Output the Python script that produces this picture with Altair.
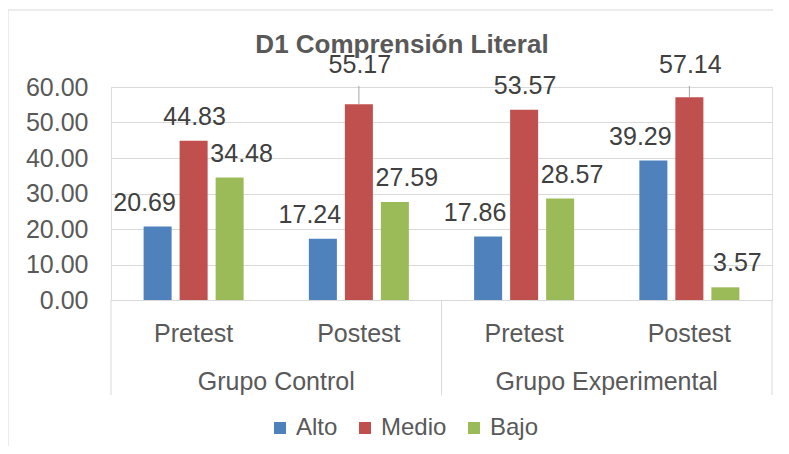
import altair as alt
import pandas as pd

# ---- data ----
grupos = ["Grupo Control", "Grupo Control", "Grupo Experimental", "Grupo Experimental"]
pruebas = ["Pretest", "Postest", "Pretest", "Postest"]
series = ["Alto", "Medio", "Bajo"]
alto = [20.69, 17.24, 17.86, 39.29]
medio = [44.83, 55.17, 53.57, 57.14]
bajo = [34.48, 27.59, 28.57, 3.57]
titulo = "D1 Comprensión Literal"
colores = ["#4F81BD", "#C0504D", "#9BBB59"]

claves = [g + "|" + p for g, p in zip(grupos, pruebas)]
rows = []
for s, vals in zip(series, [alto, medio, bajo]):
    for k, g, p, v in zip(claves, grupos, pruebas, vals):
        rows.append({"clave": k, "grupo": g, "prueba": p, "serie": s, "valor": v})
df = pd.DataFrame(rows)

# group spans along the category axis (band indices derived from the lists)
grp_rows = []
for g in dict.fromkeys(grupos):
    idx = [i for i, gg in enumerate(grupos) if gg == g]
    grp_rows.append({"grupo": g, "ini": idx[0], "fin": idx[-1] + 1,
                     "centro": (idx[0] + idx[-1] + 1) / 2})
gdf = pd.DataFrame(grp_rows)
sep_df = pd.DataFrame({"pos": sorted(set(gdf["ini"]).union(gdf["fin"]))})

FONT = "Liberation Sans"
GRAY = "#595959"
LINE = "#d9d9d9"

x_axis = alt.Axis(labelExpr="split(datum.value, '|')[1]", labelAngle=0,
                  ticks=False, domainColor=LINE, labelFontSize=25,
                  labelColor=GRAY, labelPadding=21, labelFont=FONT,
                  grid=False, labelAlign="center", labelFlush=False,
                  labelOverlap=False)
x_enc = alt.X("clave:N", sort=claves, title=None,
              scale=alt.Scale(paddingInner=0, paddingOuter=0), axis=x_axis)
xo_enc = alt.XOffset("serie:N", sort=series,
                     scale=alt.Scale(paddingInner=0.222, paddingOuter=0.906))
y_scale = alt.Scale(domain=[0, 60], nice=False)
y_axis = alt.Axis(values=[0, 10, 20, 30, 40, 50, 60], format=".2f",
                  domain=False, ticks=False, labelPadding=23,
                  labelFontSize=25, labelColor=GRAY, labelFont=FONT,
                  labelOverlap=False, gridColor=LINE, gridWidth=1)

base = alt.Chart(df)

bars = base.mark_bar().encode(
    x=x_enc,
    xOffset=xo_enc,
    y=alt.Y("valor:Q", scale=y_scale, title=None, axis=y_axis),
    color=alt.Color("serie:N", sort=series,
                    scale=alt.Scale(domain=series, range=colores),
                    legend=alt.Legend(title=None, orient="none", legendX=157, legendY=329,
                                      direction="horizontal", symbolType="square",
                                      symbolSize=144, symbolStrokeWidth=0,
                                      labelFontSize=24, labelColor=GRAY, labelFont=FONT,
                                      columnPadding=15, labelOffset=4, padding=0)),
)

lab_base = base.transform_calculate(
    lab="datum.valor > 55 ? 66.3 : datum.valor + 6.76"
)

label_layers = []
for s, dx in zip(series, [-13, 1, 12]):
    label_layers.append(
        lab_base.transform_filter(alt.datum.serie == s).mark_text(
            dx=dx, baseline="middle", align="center", fontSize=25,
            color="#404040", font=FONT
        ).encode(
            x=x_enc, xOffset=xo_enc,
            y=alt.Y("lab:Q", scale=y_scale, title=None, axis=y_axis),
            text=alt.Text("valor:Q", format=".2f"),
        )
    )

leaders = lab_base.transform_filter("datum.valor > 55").transform_calculate(
    top="datum.lab - 6"
).mark_rule(color="#a6a6a6", strokeWidth=1).encode(
    x=x_enc, xOffset=xo_enc,
    y=alt.Y("valor:Q", scale=y_scale, title=None, axis=y_axis),
    y2="top:Q",
)

main = alt.layer(bars, *label_layers, leaders)

# second level of the category axis, on its own band-index scale
n = len(claves)
pos_scale = alt.Scale(domain=[0, n], nice=False, zero=False)
group_labels = alt.Chart(gdf).mark_text(
    fontSize=25, color=GRAY, font=FONT, baseline="alphabetic"
).encode(
    x=alt.X("centro:Q", scale=pos_scale, axis=None),
    y=alt.value(303),
    text="grupo:N",
)
separators = alt.Chart(sep_df).mark_rule(color=LINE).encode(
    x=alt.X("pos:Q", scale=pos_scale, axis=None),
    y=alt.value(213), y2=alt.value(308),
)

one = alt.Chart(pd.DataFrame({"t": [titulo]}))
title_txt = one.mark_text(fontSize=26, fontWeight="bold", color=GRAY, font=FONT,
                          align="center", baseline="alphabetic").encode(
    x=alt.value(291), y=alt.value(-34), text="t:N")
border_top = one.mark_rule(color=LINE).encode(
    x=alt.value(-103), x2=alt.value(700), y=alt.value(-77))
border_left = one.mark_rule(color=LINE).encode(
    x=alt.value(-103), y=alt.value(-77), y2=alt.value(400))

deco = alt.layer(border_top, border_left, separators, group_labels, title_txt)

chart = alt.layer(main, deco).resolve_scale(x="independent").resolve_axis(
    x="independent"
).properties(
    width=661, height=213,
    autosize=alt.AutoSizeParams(type="none"),
    padding={"left": 103, "top": 79, "right": 1, "bottom": 146},
).configure_view(stroke=None).configure(font=FONT)

chart.save("out.html", embed_options={"renderer": "svg", "actions": False})
